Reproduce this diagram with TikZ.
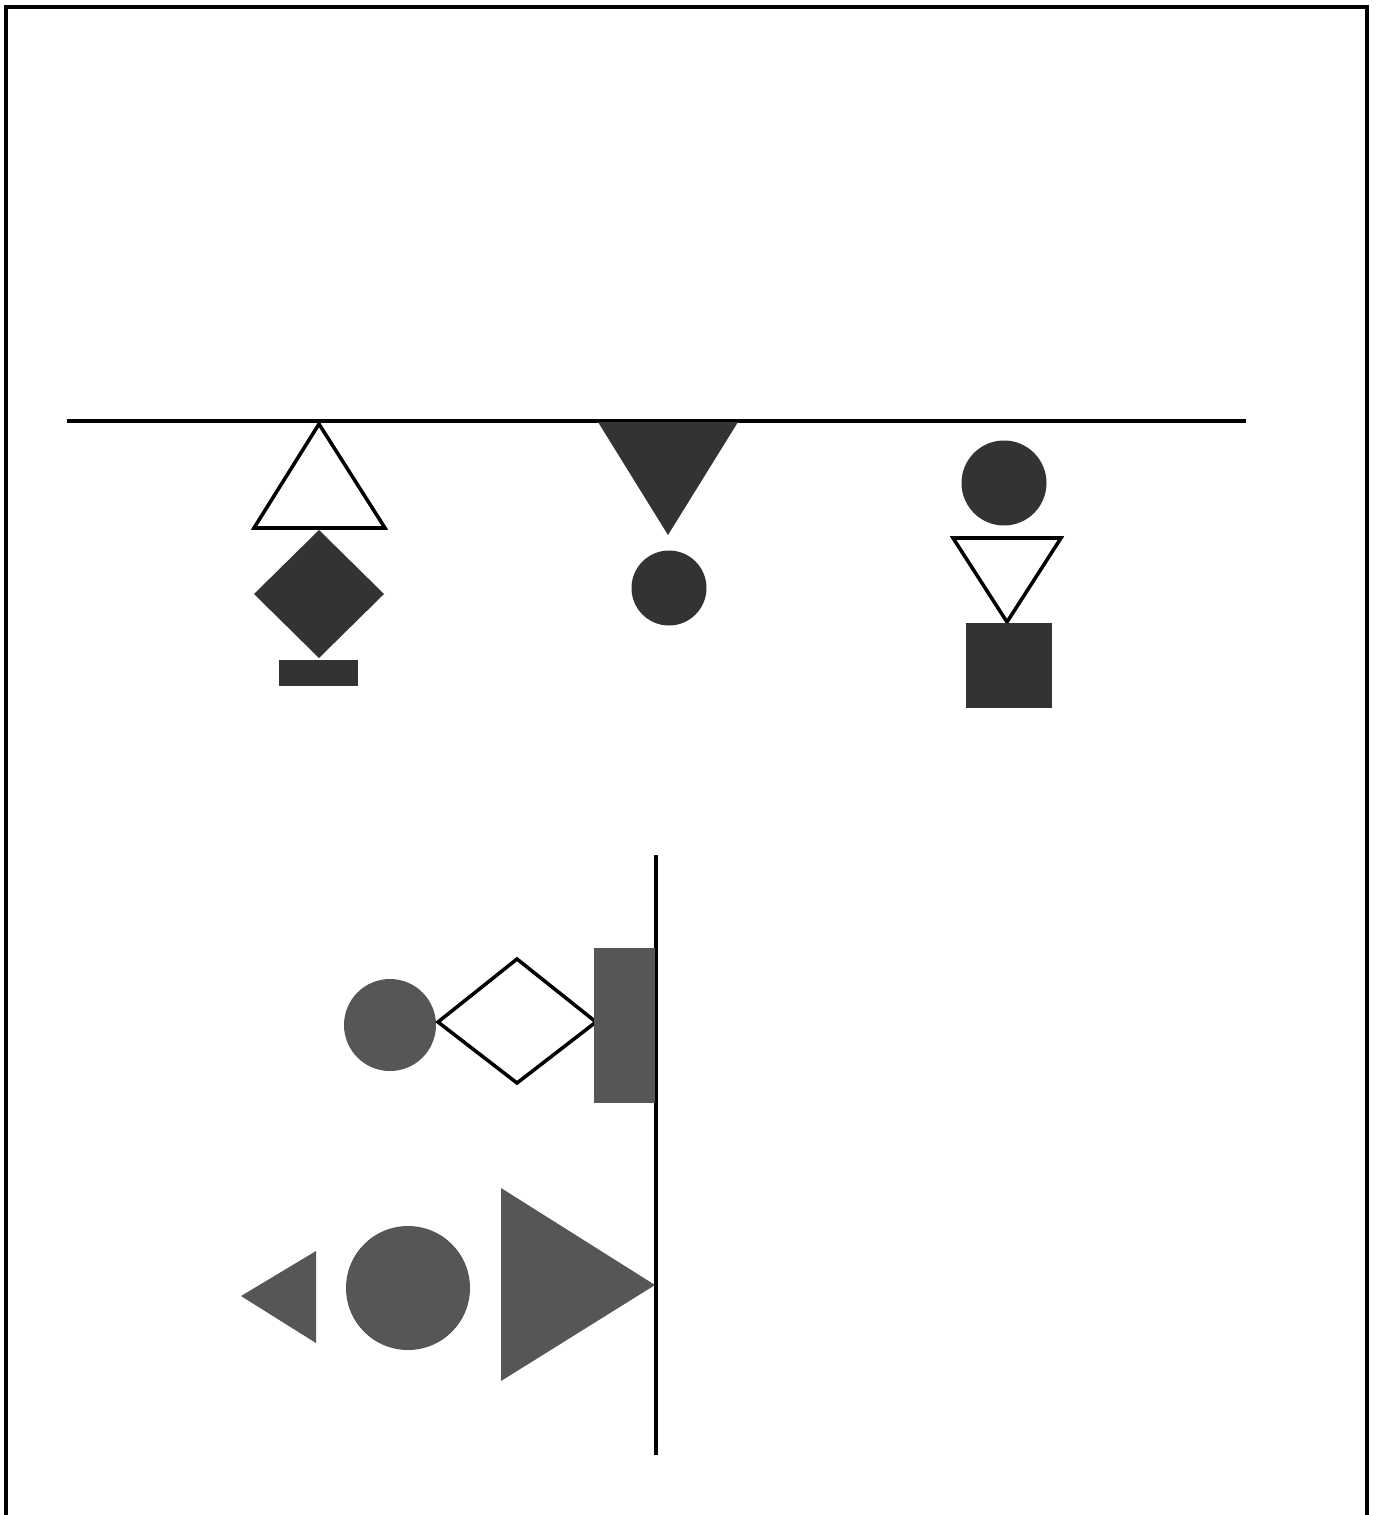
\documentclass[tikz,border=0pt]{standalone}
\usepackage{tikz}
\usetikzlibrary{positioning}

\definecolor{darkfill}{HTML}{333333}
\definecolor{greyfill}{HTML}{565656}

\begin{document}
\begin{tikzpicture}[x=0.01cm, y=-0.01cm,
    solid shape/.style={fill=darkfill, draw=none},
    grey shape/.style={fill=greyfill, draw=none},
    open shape/.style={draw=black, line width=1pt, line join=miter, fill=white},
    axis line/.style={draw=black, line width=1pt}]
  \useasboundingbox (0,0) rectangle (1376,1515);

  % Frame (open at the bottom)
  \draw[line width=1pt] (6,1515) -- (6,7) -- (1367,7) -- (1367,1515);

  % Horizontal line
  \draw[axis line] (67,421) -- (1246,421);

  % Left column
  \draw[open shape] (319,424) -- (385,528) -- (254,528) -- cycle;
  \fill[solid shape] (319,530) -- (384,594) -- (319,658) -- (254,594) -- cycle;
  \fill[solid shape] (279,660) rectangle (358,686);

  % Middle column
  \fill[solid shape] (598,422) -- (738,422) -- (668,535) -- cycle;
  \fill[solid shape] (669,588) circle (37.5);

  % Right column
  \fill[solid shape] (1004,483) circle (42.5);
  \draw[open shape] (953,538) -- (1061,538) -- (1007,622) -- cycle;
  \fill[solid shape] (966,623) rectangle (1052,708);

  % Vertical line
  \draw[axis line] (656,855) -- (656,1455);

  % Upper row
  \fill[grey shape] (390,1025) circle (46);
  \draw[open shape] (438,1022) -- (517,959) -- (596,1022) -- (517,1083) -- cycle;
  \fill[grey shape] (594,948) rectangle (655,1103);

  % Lower row
  \fill[grey shape] (241,1296) -- (316,1251) -- (316,1343) -- cycle;
  \fill[grey shape] (408,1288) circle (62);
  \fill[grey shape] (501,1188) -- (655,1285) -- (501,1381) -- cycle;
\end{tikzpicture}
\end{document}
